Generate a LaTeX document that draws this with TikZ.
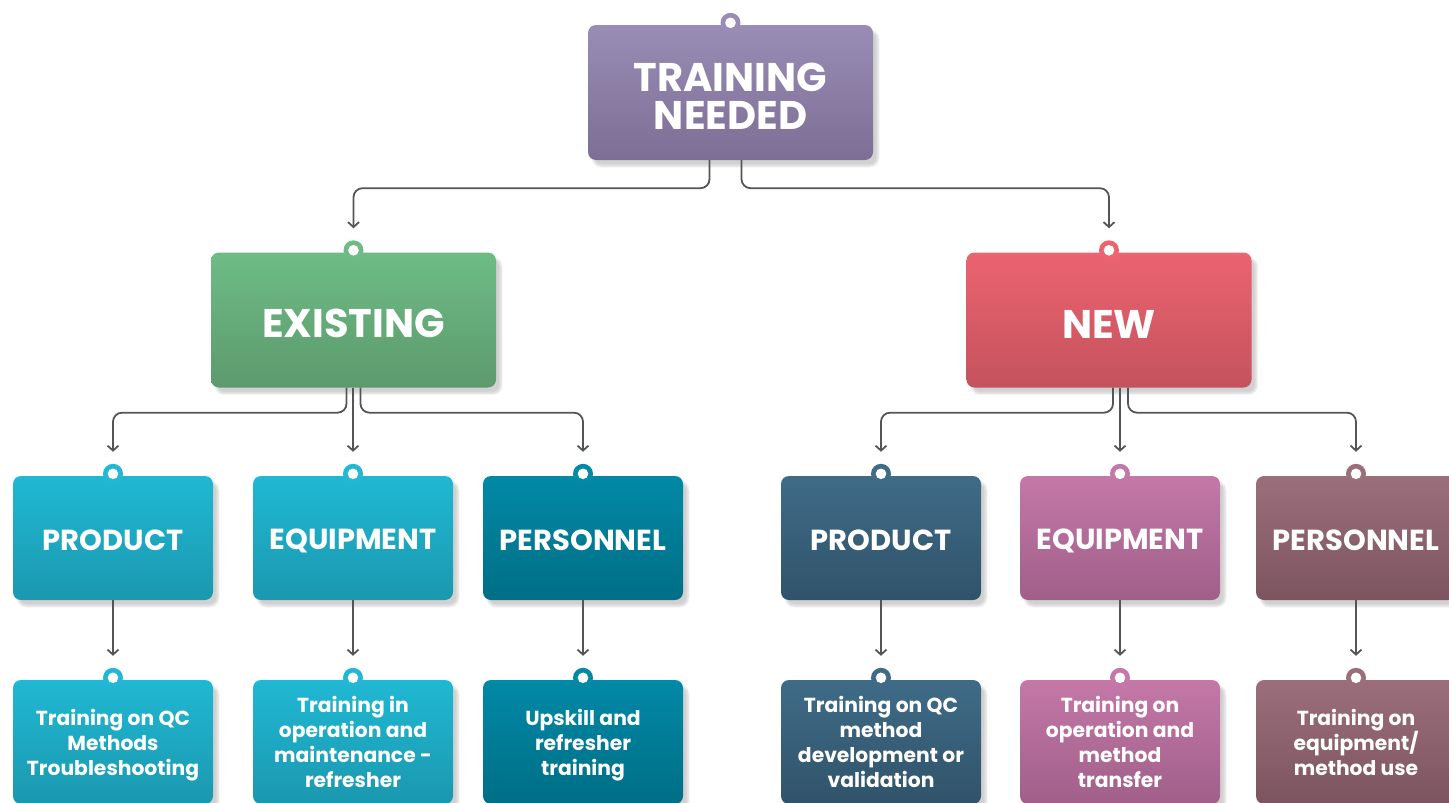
\documentclass[tikz,border=0pt]{standalone}
\usepackage{fontspec}
\setmainfont{Poppins}
\usetikzlibrary{arrows.meta,shadows.blur}
% box colours (top / bottom of the shading)
\definecolor{purT}{HTML}{9A8DB5}\definecolor{purB}{HTML}{7C6E95}
\definecolor{grnT}{HTML}{6DBC85}\definecolor{grnB}{HTML}{5D9A6D}
\definecolor{redT}{HTML}{EB6470}\definecolor{redB}{HTML}{C4525D}
\definecolor{cyaT}{HTML}{20B8D3}\definecolor{cyaB}{HTML}{1A98AF}
\definecolor{tealT}{HTML}{0189A6}\definecolor{tealB}{HTML}{006E86}
\definecolor{navT}{HTML}{3F6B87}\definecolor{navB}{HTML}{30536A}
\definecolor{pnkT}{HTML}{C478A8}\definecolor{pnkB}{HTML}{A05F89}
\definecolor{mauT}{HTML}{9B6E7A}\definecolor{mauB}{HTML}{7C5561}
\definecolor{linkgray}{HTML}{555555}
\tikzset{
  box/.style={rounded corners=8pt, text=white, align=center, inner sep=0pt,
    blur shadow={shadow xshift=5pt, shadow yshift=-6pt, shadow blur steps=6, shadow opacity=18}},
  fade/.style={top color=#1T, bottom color=#1B},
  bigbox/.style={box, minimum width=285pt, minimum height=135pt,
    font=\fontsize{40}{40}\selectfont\bfseries},
  catbox/.style={box, minimum width=200pt, minimum height=124pt, text height=26pt,
    font=\fontsize{29}{30}\selectfont\bfseries},
  leafbox/.style={box, minimum width=200pt, minimum height=124pt, text depth=-7pt,
    font=\fontsize{20.3}{25}\selectfont\bfseries},
  link/.style={draw=linkgray, line width=1.8pt, rounded corners=9pt,
    -{Straight Barb[length=5pt,width=11pt]}, shorten >=24pt},
}
% little pin on top of a box
\newcommand\boxpin[2]{%
  \fill[#2] ([yshift=2pt]#1.north) circle (10pt);
  \fill[white] ([yshift=2pt]#1.north) circle (5.3pt);}
\begin{document}
\begin{tikzpicture}[x=1pt,y=-1pt]
  \useasboundingbox (0,0) rectangle (1449,803);
  % top and second level
  \node[bigbox, fade=pur, text height=73pt] (train) at (730.5,92.5) {TRAINING\\[-2pt]NEEDED};
  \node[bigbox, fade=grn, text height=36pt] (exist) at (353.5,320) {EXISTING};
  \node[bigbox, fade=red, text height=36pt] (new) at (1109,320) {NEW};
  % third level
  \foreach \n/\x/\c/\t in {eprod/113/cya/PRODUCT, eequi/353/cya/EQUIPMENT, epers/583/teal/PERSONNEL,
      nprod/881/nav/PRODUCT, nequi/1120/pnk/EQUIPMENT, npers/1356/mau/PERSONNEL}
    \node[catbox, fade=\c] (\n) at (\x,538) {\t};
  % fourth level
  \foreach \n/\x/\c/\t in {eprodx/113/cya/{Training on QC\\Methods\\Troubleshooting},
      eequix/353/cya/{Training in\\operation and\\maintenance -\\refresher},
      epersx/583/teal/{Upskill and\\refresher\\training},
      nprodx/881/nav/{Training on QC\\method\\development or\\validation},
      nequix/1120/pnk/{Training on\\operation and\\method\\transfer},
      npersx/1356/mau/{Training on\\equipment/\\method use}}
    \node[leafbox, fade=\c] (\n) at (\x,742) {\t};
  % pins
  \boxpin{train}{purT} \boxpin{exist}{grnT} \boxpin{new}{redT}
  \foreach \n/\c in {eprod/cya, eequi/cya, epers/teal, nprod/nav, nequi/pnk, npers/mau}{
    \boxpin{\n}{\c T}
    \boxpin{\n x}{\c T}
  }
  % connectors
  \draw[link] ([xshift=-21pt]train.south) -- ++(0,28) -| (exist.north);
  \draw[link] ([xshift=11pt]train.south) -- ++(0,28) -| (new.north);
  \draw[link] ([xshift=-7pt]exist.south) -- ++(0,25) -| (eprod.north);
  \draw[link] (eequi.north |- exist.south) -- (eequi.north);
  \draw[link] ([xshift=7pt]exist.south) -- ++(0,25) -| (epers.north);
  \draw[link] ([xshift=4pt]new.south) -- ++(0,25) -| (nprod.north);
  \draw[link] (nequi.north |- new.south) -- (nequi.north);
  \draw[link] ([xshift=19pt]new.south) -- ++(0,25) -| (npers.north);
  \foreach \n in {eprod, eequi, epers, nprod, nequi, npers}
    \draw[link] (\n.south) -- (\n x.north);
\end{tikzpicture}
\end{document}
